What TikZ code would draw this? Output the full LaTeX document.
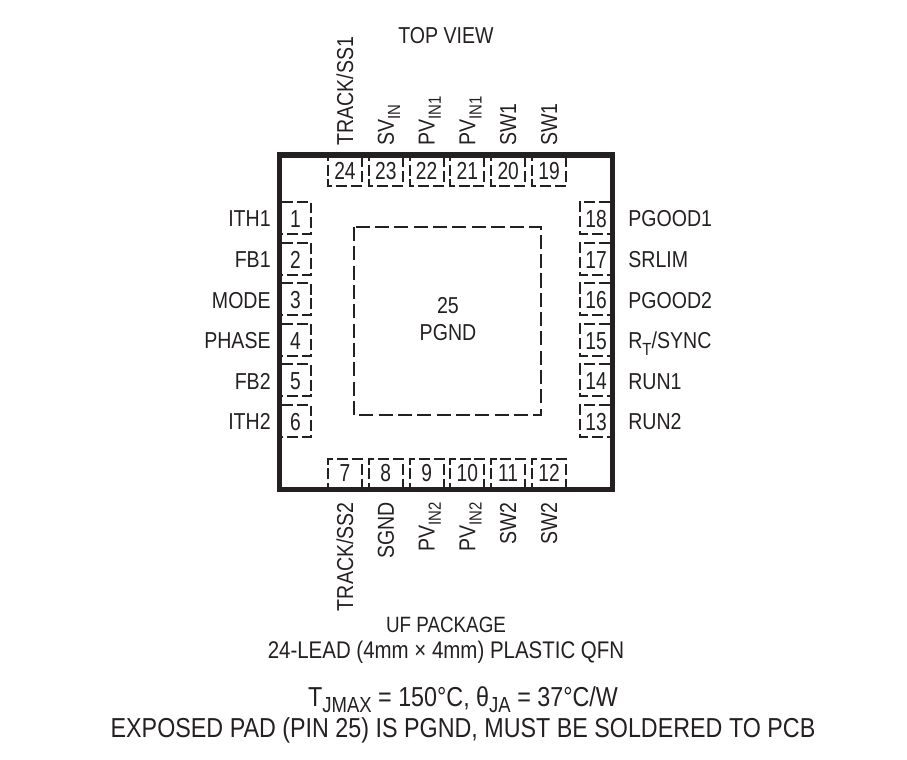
\documentclass[tikz,border=0pt]{standalone}
\usepackage{fontspec}
\setmainfont[FakeStretch=0.85]{Liberation Sans}
\newfontfamily\numfont[FakeStretch=0.78]{Liberation Sans}
\definecolor{inkblack}{rgb}{0.14, 0.12, 0.13}
\newcommand{\lowsub}[1]{\raisebox{-3.6pt}{\fontsize{10}{10}\selectfont #1}}
\newcommand{\bigsub}[1]{\raisebox{-3.8pt}{\fontsize{12.4}{12}\selectfont #1}}
\tikzset{
    pinlabel/.style={
        text = inkblack, inner sep = 0pt,
        font = \fontsize{13.1}{15}\selectfont
    },
    pinnum/.style={
        text = inkblack, inner sep = 0pt,
        font = \numfont\fontsize{14}{16}\selectfont
    },
    pad/.style = {draw = inkblack, line width = 1.05pt, dash pattern = on 6.2pt off 2.2pt},
    epad/.style = {draw = inkblack, line width = 1.1pt, dash pattern = on 8pt off 3pt},
    note/.style = {
        text = inkblack, inner sep = 0pt, align = center,
        font = \fontsize{13.1}{15.4}\selectfont
    },
    bignote/.style = {
        text = inkblack, inner sep = 0pt, align = center,
        font = \fontsize{15.6}{18}\selectfont
    }
}

\begin{document}
\begin{tikzpicture}[x=0.02cm, y=-0.02cm]

    % Page
    \useasboundingbox (0,0) rectangle (907,760);

    % Package outline
    \draw[inkblack, line width=2.9pt] (279.5,155) rectangle (612.5,489.5);

    % Exposed pad
    \draw[epad] (354,227) rectangle (541,415);
    \node[pinlabel, align=center] (pgnd) at (448,319) {25\\[0pt]PGND};

    % Left and right pins
    \foreach \n/\name [count=\i from 0] in {1/ITH1, 2/FB1, 3/MODE, 4/PHASE, 5/FB2, 6/ITH2}{
        \draw[pad] (282,{202+40.6*\i}) -- (311,{202+40.6*\i}) -- (311,{234+40.6*\i}) -- (282,{234+40.6*\i});
        \node[pinnum] (pin\n) at (295.5,{219+40.6*\i}) {\n};
        \node[pinlabel, anchor=base east] (lbl\n) at (271,{227+40.6*\i}) {\name};
    }
    \foreach \n/\name [count=\i from 0] in {18/PGOOD1, 17/SRLIM, 16/PGOOD2, 15/{R\lowsub{T}/SYNC}, 14/RUN1, 13/RUN2}{
        \draw[pad] (610,{202+40.6*\i}) -- (580,{202+40.6*\i}) -- (580,{234+40.6*\i}) -- (610,{234+40.6*\i});
        \node[pinnum] (pin\n) at (596,{219+40.6*\i}) {\n};
        \node[pinlabel, anchor=base west] (lbl\n) at (628,{227+40.6*\i}) {\name};
    }

    % Top pins
    \foreach \n/\name [count=\i from 0] in {24/{TRACK/SS1}, 23/SV\lowsub{IN}, 22/PV\lowsub{IN1}, 21/PV\lowsub{IN1}, 20/SW1, 19/SW1}{
        \draw[pad, dash phase=4pt] ({328+40.8*\i},157) -- ({328+40.8*\i},186) -- ({362+40.8*\i},186) -- ({362+40.8*\i},157);
        \node[pinnum] (pin\n) at ({345+40.8*\i},171) {\n};
        \node[pinlabel, rotate=90, anchor=base west] (lbl\n) at ({353+40.8*\i},146) {\name};
    }

    % Bottom pins
    \foreach \n/\name [count=\i from 0] in {7/{TRACK/SS2}, 8/SGND, 9/PV\lowsub{IN2}, 10/PV\lowsub{IN2}, 11/SW2, 12/SW2}{
        \draw[pad, dash phase=4pt] ({328+40.8*\i},487) -- ({328+40.8*\i},459) -- ({362+40.8*\i},459) -- ({362+40.8*\i},487);
        \node[pinnum] (pin\n) at ({345+40.8*\i},473) {\n};
        \node[pinlabel, rotate=90, anchor=base east] (lbl\n) at ({353+40.8*\i},502) {\name};
    }

    % Captions
    \node[note] (topview) at (446,36) {TOP VIEW};
    \node[note, font=\fontsize{12.6}{15}\selectfont] (pkgname) at (446,625) {UF PACKAGE};
    \node[note, font=\fontsize{13.7}{15}\selectfont] (pkgsize) at (446,652) {24-LEAD (4mm × 4mm) PLASTIC QFN};
    \node[bignote] (ratings) at (463,715) {T\bigsub{JMAX} = 150°C, θ\bigsub{JA} = 37°C/W\\EXPOSED PAD (PIN 25) IS PGND, MUST BE SOLDERED TO PCB};

\end{tikzpicture}
\end{document}
